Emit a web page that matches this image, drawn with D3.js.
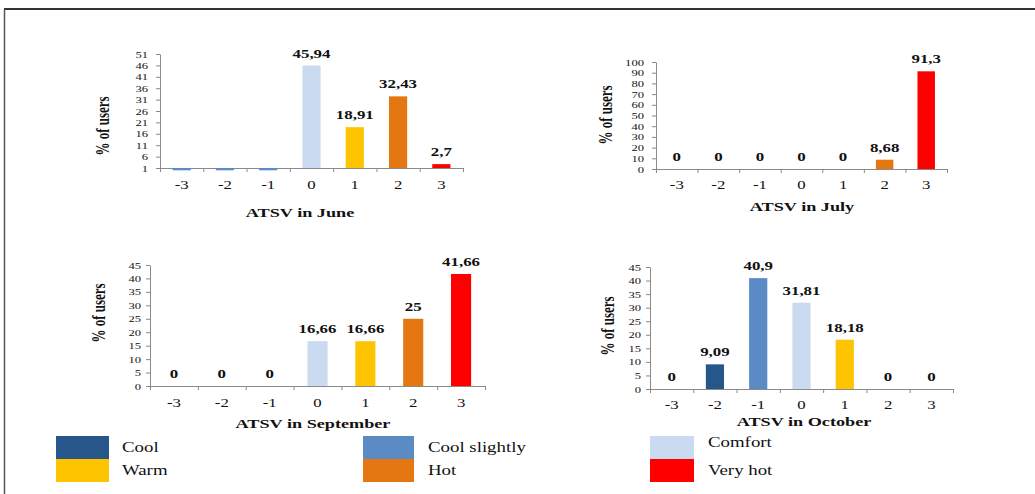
<!DOCTYPE html>
<html>
<head>
<meta charset="utf-8">
<script src="https://cdn.jsdelivr.net/npm/d3@7"></script>
<style>
  html, body { margin: 0; padding: 0; background: #ffffff; }
  svg { display: block; }
  text { font-family: "Liberation Serif", "Times New Roman", "DejaVu Serif", serif; fill: #111; }
</style>
</head>
<body>
<svg id="chart" width="1035" height="494"></svg>
<script>
// ATSV categories shared by all four months
const categories = ["-3", "-2", "-1", "0", "1", "2", "3"];

// Percentage of users per thermal sensation vote
const juneValues = [0, 0, 0, 45.94, 18.91, 32.43, 2.7];
const julyValues = [0, 0, 0, 0, 0, 8.68, 91.3];
const septemberValues = [0, 0, 0, 16.66, 16.66, 25, 41.66];
const octoberValues = [0, 9.09, 40.9, 31.81, 18.18, 0, 0];

// Y-axis tick labels
const juneTicks = [1, 6, 11, 16, 21, 26, 31, 36, 41, 46, 51];
const julyTicks = [0, 10, 20, 30, 40, 50, 60, 70, 80, 90, 100];
const septemberTicks = [0, 5, 10, 15, 20, 25, 30, 35, 40, 45];
const octoberTicks = [0, 5, 10, 15, 20, 25, 30, 35, 40, 45];

// Sensation classes (legend order) and the class drawn for each category
const sensationNames = ["Cool", "Cool slightly", "Comfort", "Warm", "Hot", "Very hot"];
const sensationColors = ["#27568b", "#5b8bc5", "#c9daf1", "#ffc400", "#e57713", "#ff0000"];
const categoryClass = ["Cool", "Cool", "Cool slightly", "Comfort", "Warm", "Hot", "Very hot"];
const juneCategoryClass = ["Cool slightly", "Cool slightly", "Cool slightly", "Comfort", "Warm", "Hot", "Very hot"];

const color = d3.scaleOrdinal().domain(sensationNames).range(sensationColors);

// horizontal glyph stretch of the text in this layout
const SX = 1.4;
const FONT = '"Liberation Serif", "Times New Roman", "DejaVu Serif", serif';

const svg = d3.select("#chart");

// page frame
svg.append("line").attr("x1", 4).attr("x2", 1035).attr("y1", 9).attr("y2", 9)
  .attr("stroke", "#333").attr("stroke-width", 2);
svg.append("line").attr("x1", 4.5).attr("x2", 4.5).attr("y1", 9).attr("y2", 494)
  .attr("stroke", "#555").attr("stroke-width", 1.5);

const panels = [
  { title: "ATSV in June", values: juneValues, ticks: juneTicks, domain: [1, 51], classes: juneCategoryClass,
    showZero: false, x0: 160, x1: 463, yTop: 54, yBase: 168, tickGap: 12, xLabelY: 189, titleY: 217, titleX: 300,
    yTitleX: 103, yTitleY: 126 },
  { title: "ATSV in July", values: julyValues, ticks: julyTicks, domain: [0, 100], classes: categoryClass,
    showZero: true, x0: 656, x1: 947, yTop: 62, yBase: 169, tickGap: 12, xLabelY: 189, titleY: 211, titleX: 802,
    yTitleX: 606, yTitleY: 115 },
  { title: "ATSV in September", values: septemberValues, ticks: septemberTicks, domain: [0, 45], classes: categoryClass,
    showZero: true, x0: 150, x1: 485, yTop: 265, yBase: 386, tickGap: 9, xLabelY: 407, titleY: 428, titleX: 313,
    yTitleX: 99, yTitleY: 313 },
  { title: "ATSV in October", values: octoberValues, ticks: octoberTicks, domain: [0, 45], classes: categoryClass,
    showZero: true, x0: 650, x1: 953, yTop: 267, yBase: 389, tickGap: 9, xLabelY: 409, titleY: 426, titleX: 804,
    yTitleX: 608, yTitleY: 326 }
];

panels.forEach(p => {
  const g = svg.append("g");
  const x = d3.scaleBand().domain(categories).range([p.x0, p.x1]).paddingInner(0.58).paddingOuter(0.29);
  const xEdges = d3.scaleLinear().domain([0, categories.length]).range([p.x0, p.x1]);
  const y = d3.scaleLinear().domain(p.domain).range([p.yBase, p.yTop]);

  // y axis
  const yAxis = g.append("g").attr("transform", `translate(${p.x0},0)`)
    .call(d3.axisLeft(y).tickValues(p.ticks).tickSize(4).tickSizeOuter(0));
  yAxis.selectAll("path, line").attr("stroke", "#8a8a8a");
  yAxis.selectAll("text").remove();
  yAxis.selectAll(".tick").append("text")
    .attr("transform", `translate(${-p.tickGap},0) scale(${SX},1)`)
    .attr("dy", "0.34em")
    .attr("text-anchor", "end")
    .attr("font-family", FONT)
    .style("font-size", "9px")
    .attr("fill", "#222")
    .text(d => d);

  // x axis: boundary ticks
  const xAxis = g.append("g").attr("transform", `translate(0,${p.yBase})`)
    .call(d3.axisBottom(xEdges).tickValues(d3.range(categories.length + 1)).tickSize(4).tickSizeOuter(0).tickFormat(""));
  xAxis.selectAll("path, line").attr("stroke", "#8a8a8a");

  // category labels
  g.selectAll(".xlab").data(categories).join("text")
    .attr("class", "xlab")
    .attr("transform", d => `translate(${x(d) + x.bandwidth() / 2},${p.xLabelY}) scale(${SX},1)`)
    .attr("text-anchor", "middle")
    .attr("font-family", FONT)
    .style("font-size", "12px")
    .text(d => d);

  // bars (drawn from the axis base value)
  const base = p.domain[0];
  g.selectAll(".bar").data(p.values).join("rect")
    .attr("class", "bar")
    .attr("x", (d, i) => x(categories[i]))
    .attr("width", x.bandwidth())
    .attr("y", d => Math.min(y(d), y(base)))
    .attr("height", d => Math.abs(y(base) - y(d)))
    .attr("fill", (d, i) => color(p.classes[i]));

  // value labels
  const labelled = p.values.map((v, i) => ({ v, i })).filter(o => p.showZero || o.v !== 0);
  g.selectAll(".val").data(labelled).join("text")
    .attr("class", "val")
    .attr("transform", o => `translate(${x(categories[o.i]) + x.bandwidth() / 2},${Math.min(y(o.v), y(base)) - 8}) scale(1.35,1)`)
    .attr("text-anchor", "middle")
    .attr("font-family", FONT)
    .style("font-size", "12.5px")
    .style("font-weight", "bold")
    .text(o => String(o.v).replace(".", ","));

  // axis titles
  g.append("text")
    .attr("transform", `translate(${p.titleX},${p.titleY}) scale(${SX},1)`)
    .attr("text-anchor", "middle")
    .attr("font-family", FONT)
    .style("font-size", "13px")
    .style("font-weight", "bold")
    .text(p.title);

  g.append("text")
    .attr("transform", `translate(${p.yTitleX},${p.yTitleY}) scale(${SX},1) rotate(-90)`)
    .attr("text-anchor", "middle")
    .attr("dy", "0.35em")
    .attr("font-family", FONT)
    .style("font-size", "13px")
    .style("font-weight", "bold")
    .text("% of users");
});

// legend: two rows of three swatches
const legendCols = [56, 363, 650];
const legendRows = [436, 459];
const legendTextX = [122, 428, 708];
const legendItems = sensationNames.map((name, i) => ({ name, col: [0, 1, 2, 0, 1, 2][i], row: [0, 0, 0, 1, 1, 1][i] }));

const legend = svg.append("g");
legend.selectAll("rect").data(legendItems).join("rect")
  .attr("x", d => legendCols[d.col])
  .attr("y", d => legendRows[d.row])
  .attr("width", d => d.col === 0 ? 53 : (d.col === 1 ? 51 : 44))
  .attr("height", 23)
  .attr("fill", d => color(d.name));
legend.selectAll("text").data(legendItems).join("text")
  .attr("transform", d => `translate(${legendTextX[d.col]},${d.row === 0 ? (d.col === 2 ? 447 : 452) : 475}) scale(1.3,1)`)
  .attr("font-family", FONT)
  .style("font-size", "14.5px")
  .text(d => d.name);
</script>
</body>
</html>
